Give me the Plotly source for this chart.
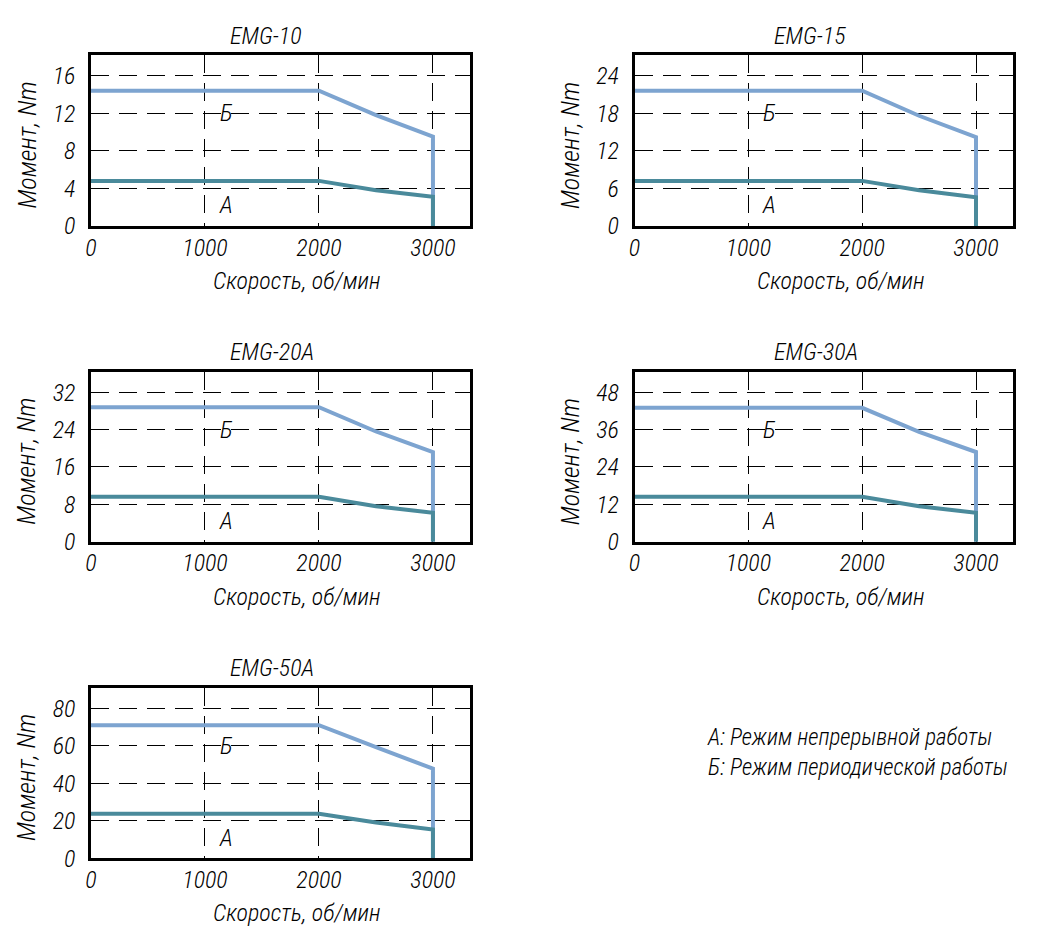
import plotly.graph_objects as go

# page body has an 8px default margin: design the figure 16px smaller and shift
OFF = 8
W, H = 1037 - 2 * OFF, 939 - 2 * OFF

# ---------------- data ----------------
models = ["EMG-10", "EMG-15", "EMG-20A", "EMG-30A", "EMG-50A"]
speed = [0, 2000, 2500, 3000, 3000]          # об/мин
torque_b = {                                  # Б: периодический режим, Nm
    "EMG-10": [14.4, 14.4, 11.8, 9.5, 0],
    "EMG-15": [21.6, 21.6, 17.6, 14.2, 0],
    "EMG-20A": [28.8, 28.8, 23.6, 19.2, 0],
    "EMG-30A": [43.0, 43.0, 35.3, 28.8, 0],
    "EMG-50A": [71.0, 71.0, 59.3, 47.8, 0],
}
torque_a = {                                  # А: непрерывный режим, Nm
    "EMG-10": [4.8, 4.8, 3.8, 3.1, 0],
    "EMG-15": [7.2, 7.2, 5.7, 4.6, 0],
    "EMG-20A": [9.6, 9.6, 7.6, 6.2, 0],
    "EMG-30A": [14.4, 14.4, 11.4, 9.3, 0],
    "EMG-50A": [23.8, 23.8, 19.1, 15.3, 0],
}
y_steps = [4, 6, 8, 12, 20]
x_ticks = [0, 1000, 2000, 3000]
x_title = "Скорость, об/мин"
y_title = "Момент, Nm"
legend_lines = ["А: Режим непрерывной работы", "Б: Режим периодической работы"]

# ---------------- style ----------------
FONT = "Roboto Condensed, Liberation Sans Narrow, Roboto, sans-serif"
COLOR_B = "#7DA4D0"
COLOR_A = "#4A8A9B"
# plot boxes in screen pixels (left, top, right, bottom)
boxes = [(91, 55, 470, 226), (634.5, 55, 1013, 226),
         (91, 371.7, 470, 541.7), (634.5, 371.7, 1013, 541.7),
         (91, 687.7, 470, 858.3)]


def fnt(size):
    return dict(family=FONT, size=size, color="black", style="italic", weight=300)


def px(x):
    return (x - OFF) / W


def py(y):
    return 1 - (y - OFF) / H


fig = go.Figure()
layout = dict(width=W, height=H, autosize=False, showlegend=False,
              margin=dict(l=0, r=0, t=0, b=0, autoexpand=False),
              paper_bgcolor="white", plot_bgcolor="white")
annotations = []

for i, (m, step, (l, t, r, b)) in enumerate(zip(models, y_steps, boxes)):
    n = "" if i == 0 else str(i + 1)
    xa, ya = "x" + n, "y" + n
    fig.add_trace(go.Scatter(x=speed, y=torque_b[m], mode="lines", xaxis=xa, yaxis=ya,
                             line=dict(color=COLOR_B, width=4), hoverinfo="skip"))
    fig.add_trace(go.Scatter(x=speed, y=torque_a[m], mode="lines", xaxis=xa, yaxis=ya,
                             line=dict(color=COLOR_A, width=4), hoverinfo="skip"))
    common = dict(showgrid=True, gridcolor="black", gridwidth=1, griddash="18px,10px",
                  showline=True, mirror=True, linecolor="black", linewidth=2.5,
                  zeroline=False, ticks="", fixedrange=True, automargin=False)
    layout["xaxis" + n] = dict(common, domain=[px(l), px(r)], anchor=ya,
                               range=[0, 3325], tickvals=x_ticks,
                               tickfont=fnt(24), ticklabelstandoff=-2)
    layout["yaxis" + n] = dict(common, domain=[py(b), py(t)], anchor=xa,
                               range=[0, 4.55 * step],
                               tickvals=[k * step for k in range(5)],
                               tickfont=fnt(24), ticklabelstandoff=8)
    # subplot title
    annotations.append(dict(text=m, xref="paper", yref="paper", x=px(l + 137),
                            y=py(t - 19.5), xanchor="left", yanchor="middle",
                            showarrow=False, font=fnt(24)))
    # x-axis title
    annotations.append(dict(text=x_title, xref="paper", yref="paper", x=px(l + 120),
                            y=py(b + 55), xanchor="left", yanchor="middle",
                            showarrow=False, font=fnt(24)))
    # y-axis title
    annotations.append(dict(text=y_title, xref="paper", yref="paper", x=px(l - 65),
                            y=py((t + b) / 2 + 5), xanchor="center", yanchor="middle",
                            textangle=-90, showarrow=False, font=fnt(26)))
    # curve labels
    annotations.append(dict(text="Б", xref=xa, yref=ya, x=1185, y=3 * step,
                            xanchor="center", yanchor="middle", showarrow=False,
                            font=fnt(24)))
    annotations.append(dict(text="А", xref=xa, yref=ya, x=1185, y=0.55 * step,
                            xanchor="center", yanchor="middle", showarrow=False,
                            font=fnt(24)))

annotations.append(dict(text="<br>".join(legend_lines), xref="paper", yref="paper",
                        x=px(705), y=py(752), xanchor="left", yanchor="middle",
                        align="left", showarrow=False, font=fnt(23)))
layout["annotations"] = annotations
fig.update_layout(**layout)
fig.write_html("out.html")
